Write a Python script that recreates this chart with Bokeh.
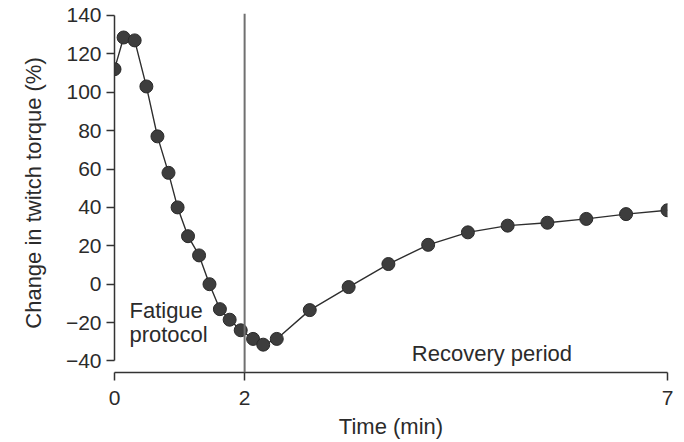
from bokeh.plotting import figure
from bokeh.models import Span, Label, FixedTicker
from bokeh.embed import file_html
from bokeh.resources import INLINE

# Data
time_min = [0, 0.14, 0.31, 0.49, 0.66, 0.83, 0.97, 1.13, 1.30, 1.46, 1.62, 1.77, 1.94,
            2.10, 2.22, 2.38, 2.77, 3.23, 3.70, 4.17, 4.64, 5.11, 5.58, 6.04, 6.51, 7.0]
torque_change = [112, 128.5, 127, 103, 77, 58, 40, 25, 15, 0, -13, -18.5, -24,
                 -28.5, -31.5, -28.5, -13.5, -1.5, 10.5, 20.5, 27, 30.5, 32, 34, 36.5, 38.5]
x_ticks = [0, 2, 7]
y_ticks = [-40, -20, 0, 20, 40, 60, 80, 100, 120, 140]
protocol_end = 2

# piecewise time scale: the recovery period is drawn wider than the fatigue protocol
RECOVERY_STRETCH = 1.3


def disp(t):
    return t if t <= protocol_end else protocol_end + (t - protocol_end) * RECOVERY_STRETCH


xs = [disp(t) for t in time_min]
x_tick_pos = [disp(t) for t in x_ticks]

FONT = "Liberation Sans"
TXT = "#2b2b2b"

p = figure(width=684, height=442, output_backend="svg", toolbar_location=None,
           x_range=(0, disp(7)), y_range=(-46, 141),
           min_border_left=114, min_border_right=17, min_border_top=13, min_border_bottom=70)
p.outline_line_color = None
p.xgrid.visible = False
p.ygrid.visible = False
p.background_fill_color = "white"
p.border_fill_color = "white"

p.add_layout(Span(location=disp(protocol_end), dimension="height",
                  line_color="#707070", line_width=2))

p.line(xs, torque_change, line_color="#2e2e2e", line_width=1.4)
p.scatter(xs, torque_change, size=13, fill_color="#3d3d3d", line_color="#2a2a2a", line_width=1)

# axes
p.xaxis.ticker = FixedTicker(ticks=x_tick_pos)
p.xaxis.major_label_overrides = {pos: str(t) for pos, t in zip(x_tick_pos, x_ticks)}
p.xaxis.bounds = (0, disp(7))
p.yaxis.ticker = FixedTicker(ticks=y_ticks)
p.yaxis.major_label_overrides = {v: (("\u2212" + str(-v)) if v < 0 else str(v)) for v in y_ticks}
p.yaxis.bounds = (-40, 140)

for ax in (p.xaxis[0], p.yaxis[0]):
    ax.axis_line_color = "#333333"
    ax.axis_line_width = 1.5
    ax.major_tick_line_color = "#333333"
    ax.major_tick_line_width = 1.5
    ax.major_tick_out = 8
    ax.major_tick_in = 0
    ax.minor_tick_line_color = None
    ax.major_label_text_font = FONT
    ax.major_label_text_font_size = "21px"
    ax.major_label_text_color = TXT
    ax.axis_label_text_font = FONT
    ax.axis_label_text_font_size = "22px"
    ax.axis_label_text_color = TXT
    ax.axis_label_text_font_style = "normal"
    ax.major_label_standoff = 5

p.xaxis.major_label_standoff = 10
p.xaxis.axis_label = "Time (min)"
p.yaxis.axis_label = "Change in twitch torque (%)"
p.xaxis.axis_label_standoff = 6
p.yaxis.axis_label_standoff = 17

for txt, x, y in [("Fatigue", 0.23, -7.0), ("protocol", 0.23, -19.5),
                  ("Recovery period", 4.57, -29.8)]:
    p.add_layout(Label(x=x, y=y, text=txt, text_font=FONT, text_font_size="22px",
                       text_color=TXT, text_baseline="top"))

open("out.html", "w").write(file_html(p, INLINE))
